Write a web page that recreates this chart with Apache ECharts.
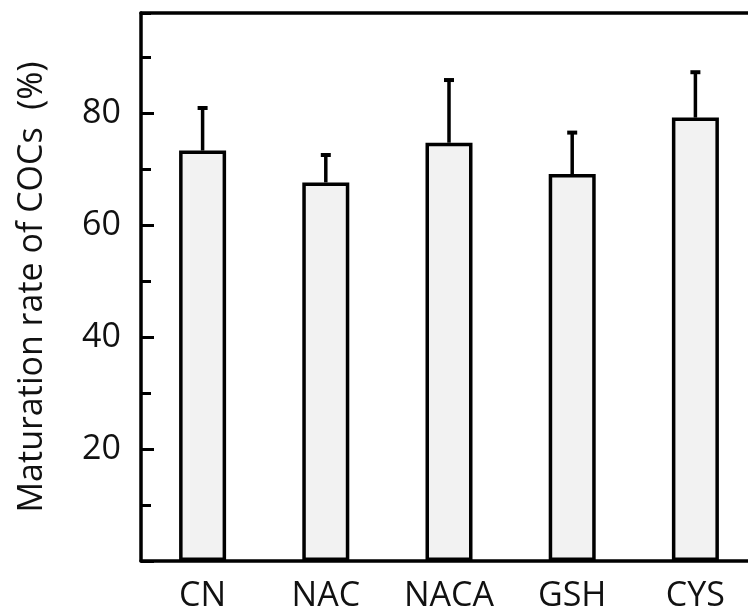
<!DOCTYPE html>
<html>
<head>
<meta charset="utf-8">
<script src="https://cdn.jsdelivr.net/npm/echarts@6/dist/echarts.min.js"></script>
<style>html,body{margin:0;padding:0;background:#fff;}#c{width:748px;height:611px;}</style>
</head>
<body>
<div id="c"></div>
<script>
var categories = ['CN', 'NAC', 'NACA', 'GSH', 'CYS'];
var means = [73.4, 67.7, 74.8, 69.2, 79.3];
var errors = [7.7, 5.0, 11.3, 7.5, 8.2];
var yTickLabels = [20, 40, 60, 80];

var chart = echarts.init(document.getElementById('c'));
var font = '"Open Sans", "Noto Sans", sans-serif';
var errData = categories.map(function (c, i) { return [i, means[i], means[i] + errors[i]]; });

chart.setOption({
  animation: false,
  grid: { left: 141, top: 13, width: 616, bottom: 50, containLabel: false, outerBoundsMode: 'none' },
  xAxis: [{
    type: 'category', data: categories, position: 'bottom',
    axisLine: { show: true, onZero: false, lineStyle: { color: '#000', width: 3.5 } },
    axisTick: { show: false },
    axisLabel: { color: '#111', fontSize: 34, fontFamily: font, margin: 18 }
  }, {
    type: 'category', data: categories, position: 'top',
    axisLine: { show: true, onZero: false, lineStyle: { color: '#000', width: 3.5 } },
    axisTick: { show: false }, axisLabel: { show: false }
  }],
  yAxis: [{
    type: 'value', min: 0, max: 98, interval: 20, position: 'left',
    name: 'Maturation rate of COCs  (%)', nameLocation: 'middle', nameGap: 92,
    nameTextStyle: { color: '#111', fontSize: 34, fontFamily: font },
    axisLine: { show: true, onZero: false, lineStyle: { color: '#000', width: 3.5 } },
    axisTick: { show: true, inside: true, length: 13, lineStyle: { color: '#000', width: 3 } },
    axisLabel: {
      color: '#111', fontSize: 34, fontFamily: font, margin: 20, showMaxLabel: false,
      formatter: function (v) { return yTickLabels.indexOf(v) >= 0 ? String(v) : ''; }
    },
    splitLine: { show: false }
  }, {
    type: 'value', min: 0, max: 98, interval: 10, position: 'left',
    axisLine: { show: false },
    axisTick: { show: true, inside: true, length: 10, lineStyle: { color: '#000', width: 3 } },
    axisLabel: { show: false }, splitLine: { show: false }
  }],
  series: [{
    type: 'bar', data: means, barWidth: 47,
    itemStyle: { color: '#f2f2f2', borderColor: '#000', borderWidth: 3.5 }
  }, {
    type: 'custom', data: errData, z: 1,
    renderItem: function (params, api) {
      var x = api.value(0);
      var p0 = api.coord([x, api.value(1)]);
      var p1 = api.coord([x, api.value(2)]);
      return {
        type: 'group',
        children: [{
          type: 'line', shape: { x1: p0[0], y1: p0[1], x2: p1[0], y2: p1[1] },
          style: { stroke: '#000', lineWidth: 3.5 }
        }, {
          type: 'line', shape: { x1: p1[0] - 5, y1: p1[1] + 0.5, x2: p1[0] + 5, y2: p1[1] + 0.5 },
          style: { stroke: '#000', lineWidth: 4 }
        }]
      };
    }
  }]
});
</script>
</body>
</html>
